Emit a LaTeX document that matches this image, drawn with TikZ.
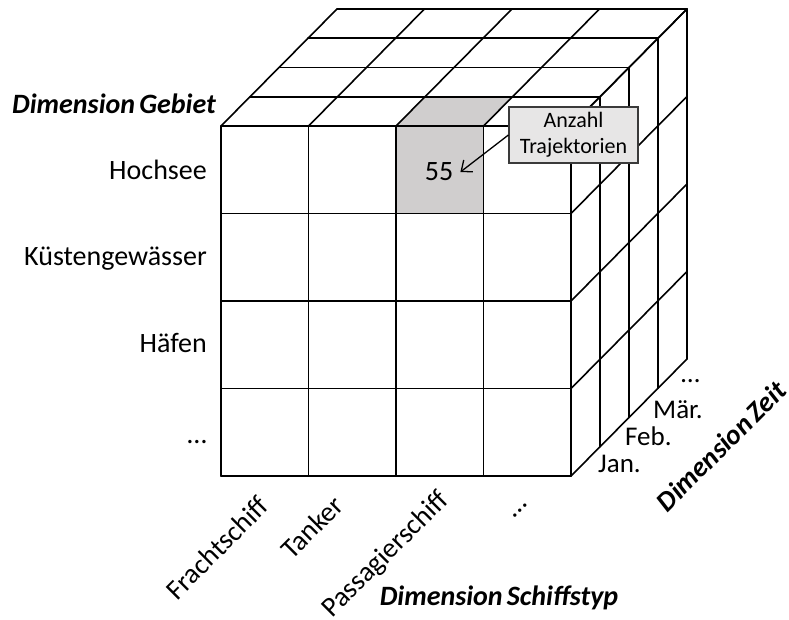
\documentclass[tikz,border=0pt]{standalone}
\usepackage{fontspec}
\setmainfont{Carlito}
\usetikzlibrary{arrows.meta}
\definecolor{cellshade}{HTML}{D0CECE}
\definecolor{notefill}{HTML}{E7E6E6}
\definecolor{noteline}{HTML}{3A3A3A}
\newcommand{\dimsep}{\hspace{0.15em}}
\begin{document}
\begin{tikzpicture}[x=1pt,y=-1pt,
  gridline/.style={line width=1.6pt, black, line join=round, line cap=round},
  lbl/.style={font=\fontsize{28}{32}\selectfont, inner sep=0pt},
  timelbl/.style={font=\fontsize{27}{31}\selectfont, inner sep=0pt, anchor=base west},
  dimlbl/.style={font=\fontsize{28}{32}\selectfont\bfseries\itshape, inner sep=0pt},
  notebox/.style={draw=noteline, fill=notefill, line width=1.2pt, minimum width=129pt,
    minimum height=56pt, align=center, inner sep=0pt,
    font=\fontsize{22}{26}\selectfont},
  pointer/.style={line width=1.3pt, -{Straight Barb[length=9pt,width=15pt]}}]
\useasboundingbox (0,0) rectangle (789,619);

% cube geometry: front face origin, cell size, depth step
\def\ox{221}
\def\oy{126}
\def\cs{87.5}
\def\dx{29}
\def\dy{-29.25}

% highlighted cell (front face and its top face)
\fill[cellshade] (\ox+2*\cs,\oy) rectangle (\ox+3*\cs,\oy+\cs);
\fill[cellshade] (\ox+2*\cs,\oy) -- ++(\dx,\dy) -- ++(\cs,0) -- ++(-\dx,-\dy) -- cycle;

% front face
\foreach \i in {0,...,4} {
  \draw[gridline] (\ox+\i*\cs,\oy) -- (\ox+\i*\cs,\oy+4*\cs);
  \draw[gridline] (\ox,\oy+\i*\cs) -- (\ox+4*\cs,\oy+\i*\cs);
}
% top face
\foreach \k in {1,...,4}
  \draw[gridline] (\ox+\k*\dx,\oy+\k*\dy) -- ++(4*\cs,0);
\foreach \i in {0,...,4}
  \draw[gridline] (\ox+\i*\cs,\oy) -- ++(4*\dx,4*\dy);
% right face
\foreach \k in {1,...,4}
  \draw[gridline] (\ox+4*\cs+\k*\dx,\oy+\k*\dy) -- ++(0,4*\cs);
\foreach \j in {0,...,4}
  \draw[gridline] (\ox+4*\cs,\oy+\j*\cs) -- ++(4*\dx,4*\dy);

% cell value and its note
\node[lbl] (val) at (439,172) {55};
\node[notebox] (note) at (573.5,135) {Anzahl\\Trajektorien};
\draw[pointer] (note.west) -- ([xshift=7pt]val.east);

% region dimension
\node[dimlbl, anchor=base west] (dimgebiet) at (12,113) {Dimension\dimsep Gebiet};
\node[lbl, anchor=base east] (hochsee) at (207,179) {Hochsee};
\node[lbl, anchor=base east] (kueste) at (207,265) {Küstengewässer};
\node[lbl, anchor=base east] (haefen) at (207,352) {Häfen};
\node[lbl, anchor=base east] (gebietmore) at (207,443) {…};

% ship type dimension
\node[lbl, rotate=45] (fracht) at (217,548) {Frachtschiff};
\node[lbl, rotate=45] (tanker) at (312,527) {Tanker};
\node[lbl, rotate=45] (passagier) at (386,555) {Passagierschiff};
\node[lbl, rotate=45] (typmore) at (520,511) {…};
\node[dimlbl] (dimtyp) at (499,598) {Dimension\dimsep Schiffstyp};

% time dimension
\node[timelbl] (jan) at (598,472) {Jan.};
\node[timelbl] (feb) at (625,445) {Feb.};
\node[timelbl] (maer) at (653,418) {Mär.};
\node[timelbl] (zeitmore) at (681,382) {…};
\node[dimlbl, rotate=45] (dimzeit) at (721,446) {Dimension\dimsep Zeit};
\end{tikzpicture}
\end{document}
